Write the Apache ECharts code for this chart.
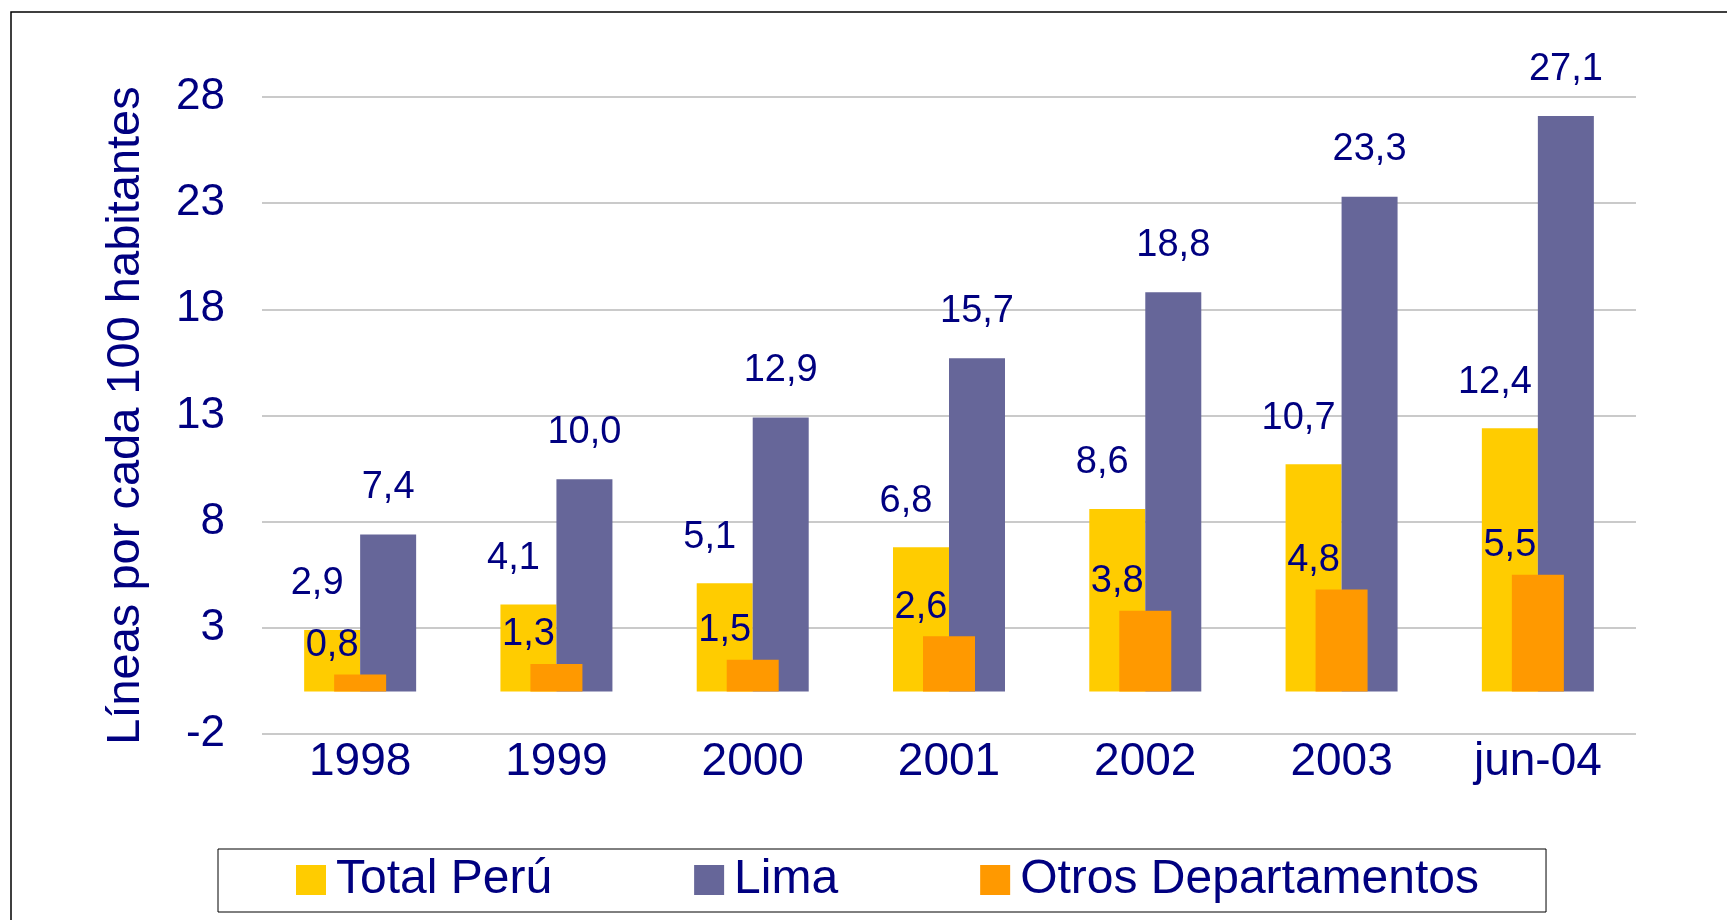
<!DOCTYPE html>
<html>
<head>
<meta charset="utf-8">
<script src="https://cdn.jsdelivr.net/npm/echarts@6/dist/echarts.min.js"></script>
<style>
  html, body { margin: 0; padding: 0; background: #ffffff; }
  #chart { width: 1727px; height: 920px; }
</style>
</head>
<body>
<div id="chart"></div>
<script>
// datos: líneas por cada 100 habitantes
var years = ["1998", "1999", "2000", "2001", "2002", "2003", "jun-04"];
var totalPeru = [2.9, 4.1, 5.1, 6.8, 8.6, 10.7, 12.4];
var lima = [7.4, 10.0, 12.9, 15.7, 18.8, 23.3, 27.1];
var otros = [0.8, 1.3, 1.5, 2.6, 3.8, 4.8, 5.5];

var navy = "#000080";
var font = "'Liberation Sans', Arial, sans-serif";

function fmt(p) {
  return p.value.toFixed(1).replace(".", ",");
}

var chart = echarts.init(document.getElementById("chart"));
chart.setOption({
  animation: false,
  backgroundColor: "#ffffff",
  textStyle: { fontFamily: font },
  graphic: [
    {
      // marco exterior
      type: "rect",
      shape: { x: 11, y: 12, width: 1800, height: 1000 },
      style: { fill: "none", stroke: "#000000", lineWidth: 1.5 },
      silent: true
    }
  ],
  grid: { left: 262, right: 91, top: 97, bottom: 186 },
  legend: {
    left: 218,
    top: 849,
    padding: [7, 67, 8, 78],
    borderColor: "#000000",
    borderWidth: 1,
    itemWidth: 30,
    itemHeight: 30,
    itemGap: 142,
    icon: "rect",
    textStyle: { color: navy, fontSize: 48, fontFamily: font, padding: [0, 0, 0, 5] },
    data: ["Total Perú", "Lima", "Otros Departamentos"]
  },
  xAxis: [
    {
      type: "category",
      data: years,
      axisLine: { show: false, onZero: false },
      axisTick: { show: false },
      axisLabel: { color: navy, fontSize: 46, margin: 5, fontFamily: font }
    },
    {
      type: "category",
      data: years,
      show: false
    }
  ],
  yAxis: {
    type: "value",
    min: -2,
    max: 28,
    interval: 5,
    name: "Líneas por cada 100 habitantes",
    nameLocation: "middle",
    nameGap: 112,
    nameTextStyle: { color: navy, fontSize: 47, fontFamily: font },
    axisLine: { show: false },
    axisTick: { show: false },
    axisLabel: { color: navy, fontSize: 44, margin: 37, fontFamily: font },
    splitLine: { lineStyle: { color: "#b8b8b8", width: 1.5 } }
  },
  series: [
    {
      name: "Total Perú",
      type: "bar",
      xAxisIndex: 0,
      data: totalPeru,
      barWidth: 56,
      barGap: "0%",
      itemStyle: { color: "#FFCC00" },
      label: {
        show: true, position: "top", distance: 5, offset: [-15, -22],
        color: navy, fontSize: 38, fontFamily: font, formatter: fmt
      }
    },
    {
      name: "Lima",
      type: "bar",
      xAxisIndex: 0,
      data: lima,
      barWidth: 56,
      barGap: "0%",
      itemStyle: { color: "#666699" },
      label: {
        show: true, position: "top", distance: 5, offset: [0, -23],
        color: navy, fontSize: 38, fontFamily: font, formatter: fmt
      }
    },
    {
      name: "Otros Departamentos",
      type: "bar",
      xAxisIndex: 1,
      data: otros,
      barWidth: 52,
      itemStyle: { color: "#FF9900" },
      label: {
        show: true, position: "top", distance: 5, offset: [-28, -5],
        color: navy, fontSize: 38, fontFamily: font, formatter: fmt
      }
    }
  ]
});
</script>
</body>
</html>
